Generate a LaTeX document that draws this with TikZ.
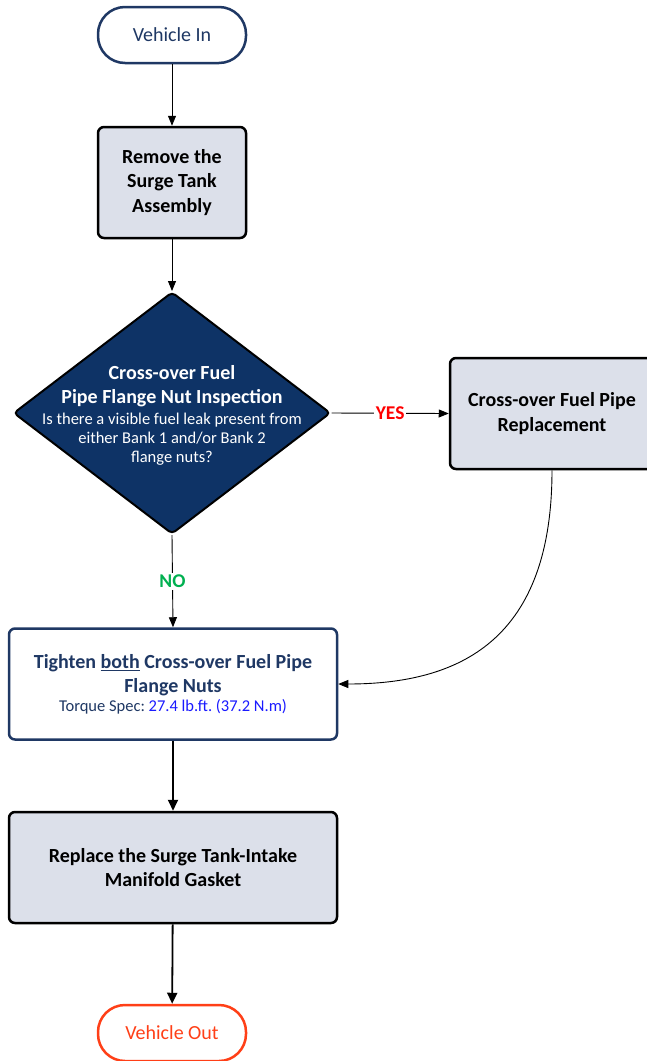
\documentclass[tikz,border=0pt]{standalone}
\usepackage{fontspec}
\setmainfont{Carlito}
\frenchspacing
\usetikzlibrary{shapes.geometric,arrows.meta}
\definecolor{navy}{HTML}{1F3864}
\definecolor{dfill}{HTML}{0E3366}
\definecolor{gfill}{HTML}{DCE0EA}
\definecolor{outred}{HTML}{FF3F17}
\definecolor{yesred}{HTML}{FF0000}
\definecolor{nogreen}{HTML}{00B050}
\definecolor{specblue}{HTML}{1A1AFF}
\newcommand{\smalltxt}{\mdseries\fontsize{16.5}{19}\selectfont}
\begin{document}
\frenchspacing
\begin{tikzpicture}[x=1pt,y=-1pt,
  term/.style={draw, line width=2.5pt, fill=white, rounded corners=27pt,
    minimum width=148pt, minimum height=56pt, inner sep=0pt,
    font=\fontsize{20}{24}\selectfont},
  proc/.style={draw=black, line width=2.5pt, fill=gfill, rounded corners=6pt,
    align=center, inner sep=0pt, font=\bfseries\fontsize{20}{24.5}\selectfont},
  decision/.style={diamond, draw=black, line width=2pt, fill=dfill,
    rounded corners=4pt, minimum width=317pt, minimum height=242pt, inner sep=0pt},
  dtext/.style={align=center, text=white, inner sep=0pt},
  thinarrow/.style={line width=0.9pt, -{Triangle[length=10pt,width=8pt]}},
  thickarrow/.style={line width=1.8pt, -{Triangle[length=11pt,width=10pt]}},
  lbl/.style={fill=white, inner sep=2pt, font=\bfseries\fontsize{19.5}{21}\selectfont}
]
\useasboundingbox (0,0) rectangle (646,1061);

\node[term, draw=navy, text=navy] (in) at (172,35) {Vehicle In};
\node[proc, minimum width=148pt, minimum height=111pt] (remove) at (172,182.5)
  {Remove the\\Surge Tank\\Assembly};
\node[decision] (d) at (172,413) {};
\node[dtext, font=\bfseries\fontsize{20}{24}\selectfont] (dt) at (172,415)
  {Cross-over Fuel\\Pipe Flange Nut Inspection\\[-3pt]
   {\smalltxt Is there a visible fuel leak present from}\\[-5pt]
   {\smalltxt either Bank 1 and/or Bank 2}\\[-5pt]
   {\smalltxt flange nuts?}};
\node[proc, minimum width=204pt, minimum height=111pt] (rep) at (552,413.5)
  {Cross-over Fuel Pipe\\Replacement};
\node[proc, draw=navy, fill=white, text=navy, minimum width=328pt, minimum height=111pt] (tight) at (173,684)
  {Tighten \underline{both} Cross-over Fuel Pipe\\Flange Nuts\\[-6pt]
   {\smalltxt Torque Spec: \textcolor{specblue}{27.4 lb.ft. (37.2 N.m)}}};
\node[proc, minimum width=328pt, minimum height=111pt] (repl) at (173,867.5)
  {Replace the Surge Tank-Intake\\Manifold Gasket};
\node[term, draw=outred, text=outred] (out) at (172,1033) {Vehicle Out};

\draw[thinarrow] (in) -- (remove);
\draw[thinarrow] (remove) -- (d);
\draw[thinarrow] (d.east) -- node[lbl, text=yesred, pos=0.5] {YES} (rep.west);
\draw[thinarrow] (d.south) -- node[lbl, text=nogreen, pos=0.5] {NO} (tight.north);
\draw[thinarrow] (rep.south) .. controls (552,640) and (460,684) .. (tight.east);
\draw[thickarrow] (tight) -- (repl);
\draw[thickarrow] (repl) -- (out);
\end{tikzpicture}
\end{document}
